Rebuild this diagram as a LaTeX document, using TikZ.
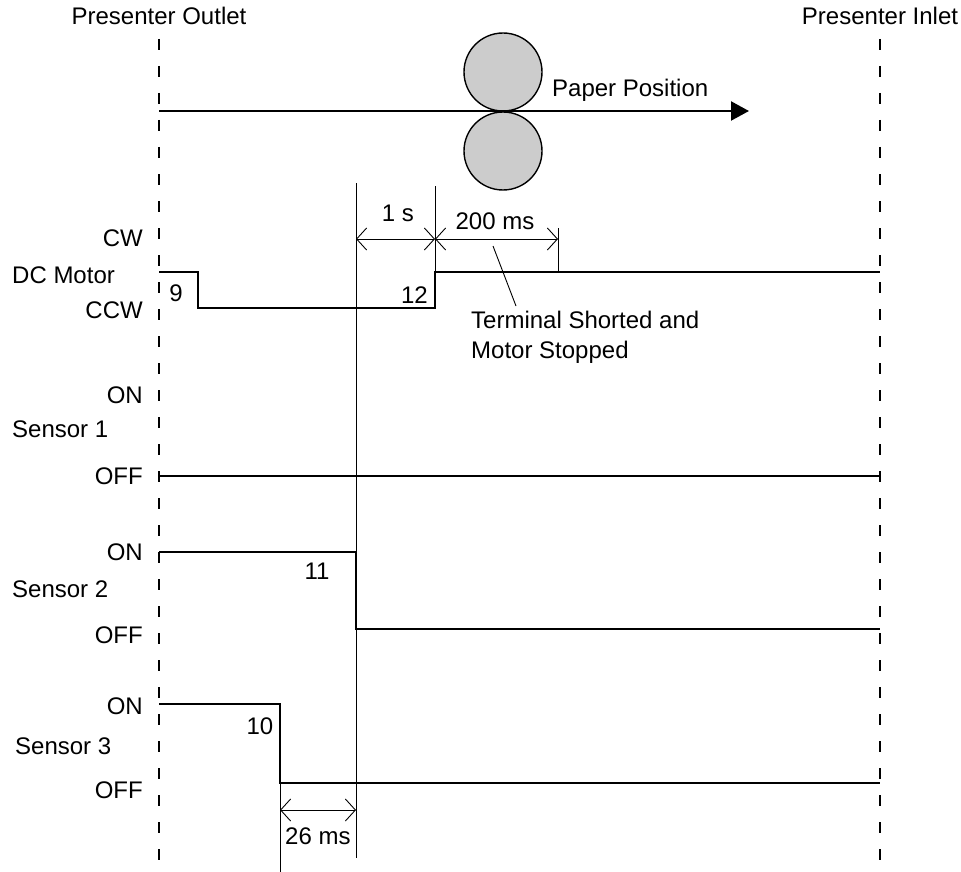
\documentclass[tikz,border=0pt]{standalone}
\usepackage{fontspec}
\setmainfont{Liberation Sans}
\usetikzlibrary{arrows.meta,positioning,calc}
\tikzstyle{lbl} = [inner sep=0pt, font=\fontsize{24}{30}\selectfont]
\tikzstyle{level} = [lbl, anchor=base east]
\tikzstyle{signame} = [lbl, anchor=base west]
\tikzstyle{wave} = [draw, line width=2.2pt]
\tikzstyle{guide} = [draw, line width=1.6pt, dash pattern=on 11pt off 16pt]
\tikzstyle{tick} = [draw, line width=0.9pt]
\tikzstyle{dim} = [draw, line width=0.9pt, {Straight Barb[length=10pt,width=22pt]}-{Straight Barb[length=10pt,width=22pt]}]
\tikzstyle{roller} = [circle, draw, line width=1.4pt, fill=black!20, minimum size=78pt, inner sep=0pt]
\tikzstyle{line} = [draw, line width=2.2pt, -{Triangle[length=18pt,width=19pt]}]

\begin{document}
\begin{tikzpicture}[x=1pt, y=-1pt]
		\useasboundingbox (0,0) rectangle (961,872);
		
		% Presenter ends
		\node[lbl, anchor=base] (Outlet) at (159,25) {Presenter Outlet};
		\node[lbl, anchor=base] (Inlet) at (880,25) {Presenter Inlet};
		\coordinate (OutletTop) at (159,39);
		\coordinate (OutletEnd) at (159,862);
		\coordinate (InletTop) at (880,39);
		\coordinate (InletEnd) at (880,862);
		
		% Paper
		\node[roller] (UpperRoller) at (503,72) {};
		\node[roller] (LowerRoller) at (503,151) {};
		\coordinate (PaperStart) at (159,111);
		\coordinate (PaperEnd) at (749,111);
		\node[signame] (PaperPosition) at (552,97) {Paper Position};
		
		% Levels
		\node[level] (CW) at (143,246) {CW};
		\node[signame] (DCMotor) at (12,283) {DC Motor};
		\node[level] (CCW) at (143,318) {CCW};
		\node[level] (On1) at (143,403) {ON};
		\node[signame] (Sensor1) at (12,437) {Sensor 1};
		\node[level] (Off1) at (143,484) {OFF};
		\node[level] (On2) at (143,560) {ON};
		\node[signame] (Sensor2) at (12,597) {Sensor 2};
		\node[level] (Off2) at (143,643) {OFF};
		\node[level] (On3) at (143,714) {ON};
		\node[signame] (Sensor3) at (15,754) {Sensor 3};
		\node[level] (Off3) at (143,798) {OFF};
		
		% Waveforms
		\coordinate (M0) at (159,272);
		\coordinate (M1) at (198,272);
		\coordinate (M2) at (198,308);
		\coordinate (M3) at (435,308);
		\coordinate (M4) at (435,272);
		\coordinate (M5) at (880,272);
		\coordinate (SA0) at (159,476);
		\coordinate (SA1) at (880,476);
		\coordinate (SB0) at (159,552);
		\coordinate (SB1) at (356,552);
		\coordinate (SB2) at (356,629);
		\coordinate (SB3) at (880,629);
		\coordinate (SC0) at (159,704);
		\coordinate (SC1) at (280,704);
		\coordinate (SC2) at (280,783);
		\coordinate (SC3) at (880,783);
		
		% Events
		\node[lbl, anchor=base] (Event9) at (176,301) {9};
		\node[lbl, anchor=base] (Event10) at (260,734) {10};
		\node[lbl, anchor=base] (Event11) at (317,579) {11};
		\node[lbl, anchor=base east] (Event12) at (428,303) {12};
		\coordinate (CutTop) at (356,183);
		\coordinate (CutEnd) at (356,858);
		\coordinate (TurnTop) at (435,186);
		\coordinate (StopTop) at (558,228);
		\coordinate (StopEnd) at (558,272);
		\coordinate (DropEnd) at (280,872);
		
		% Times
		\coordinate (DimA) at (356,239);
		\coordinate (DimB) at (435,239);
		\coordinate (DimC) at (558,239);
		\coordinate (DimD) at (280,810);
		\coordinate (DimE) at (356,810);
		\node[lbl, anchor=base] (OneSecond) at (398,221) {1 s};
		\node[lbl, anchor=base] (TwoHundred) at (495,229) {200 ms};
		\node[signame] (TwentySix) at (285,844) {26 ms};
		\node[signame] (Terminal) at (471,328) {Terminal Shorted and};
		\node[signame] (Stopped) at (471,358) {Motor Stopped};
		\coordinate (NoteFrom) at (493,246);
		\coordinate (NoteTo) at (516,306);
		
		% Paths
		\path [guide] (OutletTop) -- (OutletEnd);
		\path [guide] (InletTop) -- (InletEnd);
		\path [line] (PaperStart) -- (PaperEnd);
		\path [wave] (M0) -- (M1) -- (M2) -- (M3) -- (M4) -- (M5);
		\path [wave] (SA0) -- (SA1);
		\path [wave] (SB0) -- (SB1) -- (SB2) -- (SB3);
		\path [wave] (SC0) -- (SC1) -- (SC2) -- (SC3);
		\path [tick] (CutTop) -- (CutEnd);
		\path [tick] (TurnTop) -- (M4);
		\path [tick] (StopTop) -- (StopEnd);
		\path [tick] (SC2) -- (DropEnd);
		\path [dim] (DimA) -- (DimB);
		\path [dim] (DimB) -- (DimC);
		\path [dim] (DimD) -- (DimE);
		\path [tick] (NoteFrom) -- (NoteTo);
		
	\end{tikzpicture}
\end{document}
